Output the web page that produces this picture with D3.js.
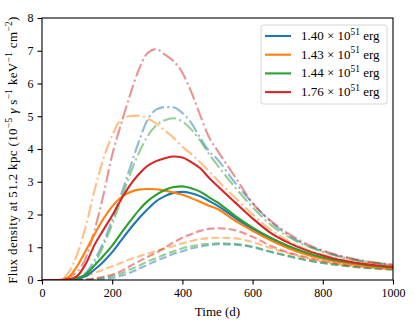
<!DOCTYPE html>
<html>
<head>
<meta charset="utf-8">
<script src="https://cdn.jsdelivr.net/npm/d3@7"></script>
<style>
  body { margin: 0; background: #fff; }
  text { font-family: "Liberation Serif", "DejaVu Serif", serif; }
</style>
</head>
<body>
<div id="chart"></div>
<script>
// time samples (days)
const days = [0, 25, 50, 75, 100, 125, 150, 175, 200, 225, 250, 275, 300, 325, 350, 375, 400, 425, 450, 475, 500, 550, 600, 650, 700, 750, 800, 850, 900, 950, 1000];

const energies = ["1.40", "1.43", "1.44", "1.76"];
const colors = ["#1f77b4", "#ff7f0e", "#2ca02c", "#d62728"];

// solid curves
const solid140 = [0, 0, 0, 0.01, 0.04, 0.12, 0.32, 0.56, 0.85, 1.2, 1.55, 1.87, 2.15, 2.4, 2.56, 2.66, 2.69, 2.65, 2.56, 2.42, 2.27, 1.9, 1.56, 1.27, 1.02, 0.82, 0.67, 0.56, 0.48, 0.42, 0.37];
const solid143 = [0, 0, 0, 0.08, 0.42, 0.9, 1.4, 1.87, 2.25, 2.52, 2.68, 2.76, 2.78, 2.77, 2.73, 2.67, 2.6, 2.5, 2.39, 2.27, 2.17, 1.81, 1.5, 1.22, 0.98, 0.79, 0.65, 0.54, 0.46, 0.4, 0.35];
const solid144 = [0, 0, 0, 0.01, 0.06, 0.18, 0.45, 0.74, 1.05, 1.42, 1.78, 2.12, 2.4, 2.6, 2.75, 2.84, 2.86, 2.8, 2.7, 2.53, 2.37, 1.96, 1.6, 1.3, 1.05, 0.85, 0.69, 0.58, 0.5, 0.43, 0.38];
const solid176 = [0, 0, 0, 0.02, 0.12, 0.5, 1.08, 1.53, 1.97, 2.45, 2.88, 3.22, 3.48, 3.63, 3.72, 3.77, 3.74, 3.6, 3.42, 3.13, 2.87, 2.37, 1.88, 1.45, 1.15, 0.92, 0.75, 0.61, 0.52, 0.45, 0.4];

// dashed curves (faded)
const dashed140 = [0, 0, 0, 0, 0, 0, 0.01, 0.03, 0.06, 0.13, 0.22, 0.34, 0.46, 0.58, 0.69, 0.8, 0.88, 0.96, 1.02, 1.06, 1.09, 1.08, 1.0, 0.86, 0.73, 0.61, 0.52, 0.45, 0.39, 0.35, 0.32];
const dashed143 = [0, 0, 0, 0, 0.05, 0.12, 0.22, 0.32, 0.42, 0.52, 0.63, 0.72, 0.8, 0.88, 0.96, 1.04, 1.12, 1.19, 1.25, 1.28, 1.29, 1.27, 1.16, 0.98, 0.82, 0.67, 0.56, 0.47, 0.41, 0.36, 0.33];
const dashed144 = [0, 0, 0, 0, 0, 0.01, 0.03, 0.07, 0.12, 0.2, 0.32, 0.43, 0.56, 0.67, 0.78, 0.88, 0.97, 1.03, 1.08, 1.1, 1.12, 1.1, 1.02, 0.87, 0.74, 0.62, 0.52, 0.45, 0.39, 0.35, 0.32];
const dashed176 = [0, 0, 0, 0, 0, 0.01, 0.05, 0.1, 0.16, 0.27, 0.42, 0.56, 0.7, 0.83, 0.99, 1.15, 1.29, 1.4, 1.5, 1.56, 1.58, 1.52, 1.32, 1.05, 0.85, 0.7, 0.58, 0.49, 0.42, 0.37, 0.34];

// dash-dot curves (faded)
const dashdot140 = [0, 0, 0, 0, 0.03, 0.22, 0.62, 1.15, 1.85, 2.6, 3.4, 4.2, 4.88, 5.2, 5.28, 5.27, 5.1, 4.8, 4.35, 3.95, 3.68, 2.97, 2.35, 1.8, 1.38, 1.08, 0.88, 0.72, 0.6, 0.52, 0.46];
const dashdot143 = [0, 0, 0.01, 0.22, 0.78, 1.65, 2.75, 3.7, 4.42, 4.9, 5.0, 5.02, 4.93, 4.78, 4.56, 4.34, 4.07, 3.85, 3.6, 3.33, 3.05, 2.52, 2.0, 1.55, 1.2, 0.95, 0.77, 0.64, 0.55, 0.49, 0.44];
const dashdot144 = [0, 0, 0, 0, 0.02, 0.15, 0.5, 1.05, 1.7, 2.45, 3.2, 3.85, 4.38, 4.72, 4.88, 4.94, 4.84, 4.6, 4.27, 3.86, 3.5, 2.83, 2.22, 1.7, 1.33, 1.06, 0.86, 0.71, 0.6, 0.52, 0.46];
const dashdot176 = [0, 0, 0, 0.08, 0.25, 0.68, 1.53, 2.6, 3.82, 4.75, 5.62, 6.4, 6.92, 7.05, 6.88, 6.68, 6.33, 5.75, 5.05, 4.38, 3.95, 3.15, 2.35, 1.82, 1.43, 1.12, 0.9, 0.74, 0.62, 0.53, 0.47];

const xTicks = [0, 200, 400, 600, 800, 1000];
const yTicks = [0, 1, 2, 3, 4, 5, 6, 7, 8];

const solidSeries = [solid140, solid143, solid144, solid176];
const dashedSeries = [dashed140, dashed143, dashed144, dashed176];
const dashdotSeries = [dashdot140, dashdot143, dashdot144, dashdot176];

const W = 415, H = 327;
const margin = { left: 42, right: 22, top: 18, bottom: 47 };
const tickSize = 12;
const labelSize = 13;

const svg = d3.select("#chart").append("svg")
    .attr("width", W)
    .attr("height", H);

const x = d3.scaleLinear().domain([0, 1000]).range([margin.left, W - margin.right]);
const y = d3.scaleLinear().domain([0, 8]).range([H - margin.bottom, margin.top]);

svg.append("clipPath").attr("id", "plot-clip")
    .append("rect")
    .attr("x", margin.left).attr("y", margin.top)
    .attr("width", W - margin.left - margin.right)
    .attr("height", H - margin.top - margin.bottom);

const line = d3.line()
    .x((d, i) => x(days[i]))
    .y(d => y(d))
    .curve(d3.curveMonotoneX);

const plot = svg.append("g").attr("clip-path", "url(#plot-clip)");

// faded dashed and dash-dot lines first
dashedSeries.forEach((vals, i) => {
    plot.append("path")
        .attr("d", line(vals))
        .attr("fill", "none")
        .attr("stroke", colors[i])
        .attr("stroke-opacity", 0.5)
        .attr("stroke-width", 2.1)
        .attr("stroke-dasharray", "7.7,3.3");
});
dashdotSeries.forEach((vals, i) => {
    plot.append("path")
        .attr("d", line(vals))
        .attr("fill", "none")
        .attr("stroke", colors[i])
        .attr("stroke-opacity", 0.5)
        .attr("stroke-width", 2.1)
        .attr("stroke-dasharray", "13.3,3.3,2.1,3.3");
});
solidSeries.forEach((vals, i) => {
    plot.append("path")
        .attr("d", line(vals))
        .attr("fill", "none")
        .attr("stroke", colors[i])
        .attr("stroke-width", 2.1);
});

// axes
const xAxis = svg.append("g")
    .attr("transform", `translate(0,${H - margin.bottom})`)
    .call(d3.axisBottom(x).tickValues(xTicks).tickFormat(d3.format("d")).tickSize(4.5).tickPadding(4));
const yAxis = svg.append("g")
    .attr("transform", `translate(${margin.left},0)`)
    .call(d3.axisLeft(y).tickValues(yTicks).tickFormat(d3.format("d")).tickSize(4.5).tickPadding(4));

[xAxis, yAxis].forEach(a => {
    a.select(".domain").remove();
    a.selectAll(".tick line").attr("stroke", "#000").attr("stroke-width", 1.1);
    a.selectAll(".tick text")
        .attr("font-family", "Liberation Serif, serif")
        .attr("font-size", tickSize)
        .attr("fill", "#000");
});

// frame
svg.append("rect")
    .attr("x", margin.left).attr("y", margin.top)
    .attr("width", W - margin.left - margin.right)
    .attr("height", H - margin.top - margin.bottom)
    .attr("fill", "none")
    .attr("stroke", "#000")
    .attr("stroke-width", 1.1);

// text with superscripts
function richText(sel, parts, size) {
    let shift = 0;
    parts.forEach(p => {
        const t = sel.append("tspan");
        if (p.sup) {
            t.attr("dy", -size * 0.42 - shift).attr("font-size", size * 0.72).text(p.sup);
            shift = -size * 0.42;
        } else {
            t.attr("dy", -shift).text(p.t);
            if (p.italic) t.attr("font-style", "italic");
            shift = 0;
        }
    });
}

const cx = (margin.left + W - margin.right) / 2;
svg.append("text")
    .attr("x", cx).attr("y", 316)
    .attr("text-anchor", "middle")
    .attr("font-size", labelSize)
    .text("Time (d)");

const yl = svg.append("text")
    .attr("transform", `translate(17,${(margin.top + H - margin.bottom) / 2 + 1}) rotate(-90)`)
    .attr("text-anchor", "middle")
    .attr("font-size", labelSize)
    .attr("letter-spacing", 0.35);
richText(yl, [
    { t: "Flux density at 51.2 kpc (10" }, { sup: "\u22125" },
    { t: " " }, { t: "\u03b3", italic: true }, { t: " s" }, { sup: "\u22121" },
    { t: " keV" }, { sup: "\u22121" }, { t: " cm" }, { sup: "\u22122" }, { t: ")" }
], labelSize);

// legend
const lg = svg.append("g");
lg.append("rect")
    .attr("x", 261).attr("y", 25)
    .attr("width", 126).attr("height", 79)
    .attr("rx", 2.5)
    .attr("fill", "#fff").attr("fill-opacity", 0.8)
    .attr("stroke", "#d6d6d6").attr("stroke-width", 1);

energies.forEach((e, i) => {
    const yy = 36 + i * 18.7;
    lg.append("line")
        .attr("x1", 265).attr("x2", 291)
        .attr("y1", yy).attr("y2", yy)
        .attr("stroke", colors[i]).attr("stroke-width", 2.1);
    const t = lg.append("text")
        .attr("x", 301).attr("y", yy + 4)
        .attr("font-size", labelSize);
    richText(t, [{ t: `${e} \u00d7 10` }, { sup: "51" }, { t: " erg" }], labelSize);
});
</script>
</body>
</html>
